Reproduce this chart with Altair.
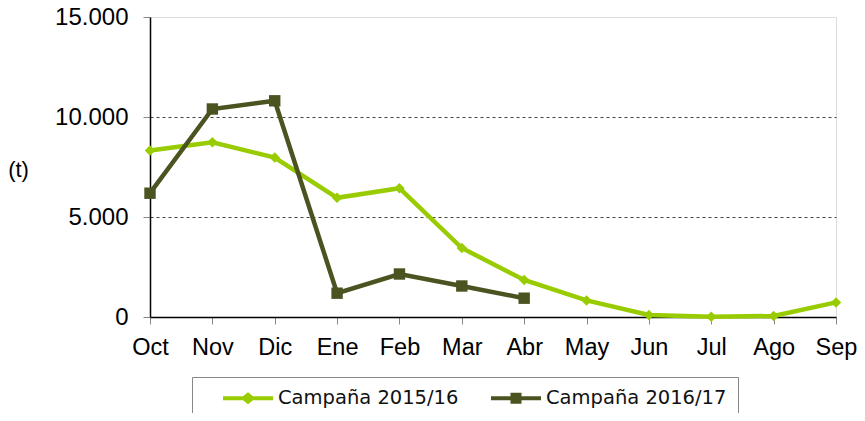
import altair as alt
import pandas as pd

months = ["Oct", "Nov", "Dic", "Ene", "Feb", "Mar", "Abr", "May", "Jun", "Jul", "Ago", "Sep"]
series_names = ["Campaña 2015/16", "Campaña 2016/17"]
values_1516 = [8320, 8740, 7970, 5960, 6440, 3450, 1850, 830, 100, 15, 50, 730]
values_1617 = [6190, 10400, 10810, 1190, 2150, 1550, 940]
colors = ["#99cc00", "#4b5320"]
y_ticks = [0, 5000, 10000, 15000]

rows = []
for m, v in zip(months, values_1516):
    rows.append({"mes": m, "serie": series_names[0], "t": v})
for m, v in zip(months, values_1617):
    rows.append({"mes": m, "serie": series_names[1], "t": v})
df = pd.DataFrame(rows)

FONT = "Liberation Sans"
NBSP = "\u00a0"

# legend symbols: line segment with marker, drawn at scale 10 px per unit
diamond_leg = ("M-2.5,-0.2 L-0.5,-0.2 L0,-0.6 L0.5,-0.2 L2.5,-0.2 L2.5,0.2 "
               "L0.5,0.2 L0,0.6 L-0.5,0.2 L-2.5,0.2 Z")
square_leg = ("M-2.5,-0.2 L-0.55,-0.2 L-0.55,-0.55 L0.55,-0.55 L0.55,-0.2 L2.5,-0.2 "
              "L2.5,0.2 L0.55,0.2 L0.55,0.55 L-0.55,0.55 L-0.55,0.2 L-2.5,0.2 Z")

color_scale = alt.Scale(domain=series_names, range=colors)

x_enc = alt.X("mes:N", sort=months, scale=alt.Scale(type="point", padding=0),
              axis=alt.Axis(title=None, labelAngle=0, labelFont=FONT, labelFontSize=23.5,
                            labelColor="#000", tickColor="#888", tickSize=7,
                            labelPadding=11, domainColor="#000", domainWidth=1.5,
                            grid=False))
y_enc = alt.Y("t:Q", scale=alt.Scale(domain=[0, 15000], nice=False),
              axis=alt.Axis(values=y_ticks, title="(t)", titleAngle=0,
                            titleFont=FONT, titleFontSize=22, titleFontWeight="normal",
                            titleColor="#000", titleX=-132, titleY=152,
                            titleAlign="center", titleBaseline="middle",
                            labelExpr="replace(format(datum.value, ','), ',', '.')",
                            labelFont=FONT, labelFontSize=24, labelColor="#000",
                            labelPadding=15, tickColor="#888", tickSize=7,
                            domainColor="#000", domainWidth=1.5,
                            grid=True, gridColor="#444", gridWidth=1,
                            gridDash=[3, 3],
                            gridOpacity={"condition": {"test": "datum.value === 0 || datum.value === 15000", "value": 0}, "value": 1}))

legend = alt.Legend(
    title=None, orient="none", legendX=42, legendY=360, direction="horizontal",
    strokeColor="#888", padding=11, symbolOffset=35, symbolSize=400,
    labelFont="DejaVu Sans", labelFontSize=19.5, labelColor="#111", labelOffset=20,
    columnPadding=12, labelLimit=400,
    labelExpr="datum.value === '" + series_names[1] + "' ? datum.label + '" + NBSP * 3 + "' : datum.label",
    symbolType={"expr": "datum.index === 0 ? '" + diamond_leg + "' : '" + square_leg + "'"},
    symbolFillColor={"expr": "datum.index === 0 ? '" + colors[0] + "' : '" + colors[1] + "'"},
    symbolStrokeColor="transparent", symbolStrokeWidth=0, symbolOpacity=1,
)

lines = alt.Chart(df).mark_line(strokeWidth=4.5).encode(
    x=x_enc, y=y_enc,
    color=alt.Color("serie:N", scale=color_scale, legend=legend),
)
pts1 = alt.Chart(df).transform_filter(alt.datum.serie == series_names[0]).mark_point(
    filled=True, opacity=1, shape="diamond", size=110).encode(
    x=x_enc, y=y_enc, color=alt.Color("serie:N", scale=color_scale, legend=legend))
pts2 = alt.Chart(df).transform_filter(alt.datum.serie == series_names[1]).mark_point(
    filled=True, opacity=1, shape="square", size=130).encode(
    x=x_enc, y=y_enc, color=alt.Color("serie:N", scale=color_scale, legend=legend))

chart = (lines + pts1 + pts2).properties(
    width=686, height=300,
    autosize=alt.AutoSizeParams(type="none"),
    padding={"left": 142, "top": 9, "right": 21, "bottom": 96},
).configure_view(stroke="#888", strokeWidth=1.5).configure(background="white")

chart.save("out.html", embed_options={"renderer": "svg", "actions": False})
